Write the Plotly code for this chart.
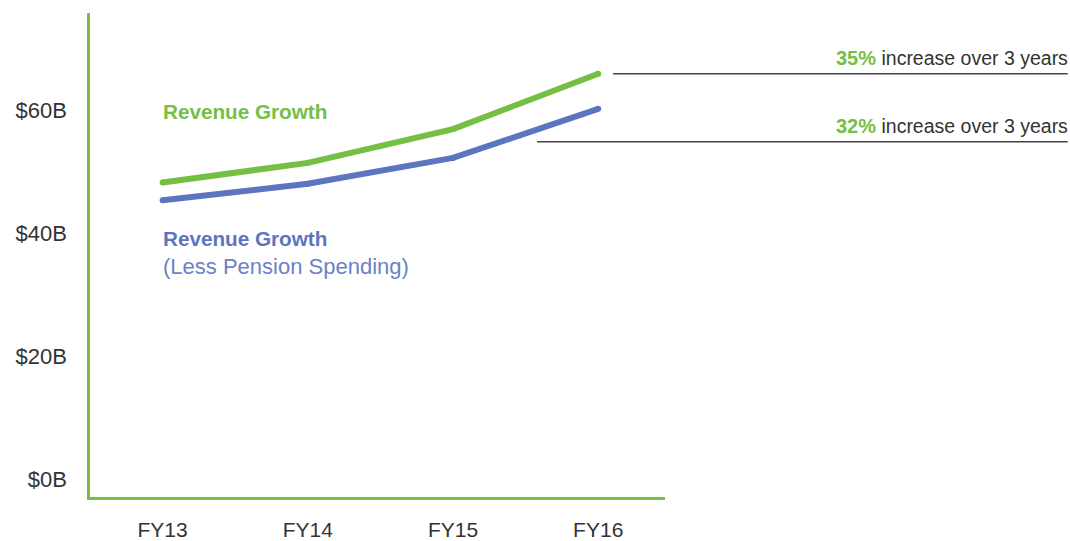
import plotly.graph_objects as go

years = ["FY13", "FY14", "FY15", "FY16"]
revenue = [48.3, 51.5, 57.0, 66.0]
revenue_less_pension = [45.4, 48.1, 52.3, 60.3]
tick_vals = [0, 20, 40, 60]
tick_text = ["$0B", "$20B", "$40B", "$60B"]

GREEN = "#74BF44"
BLUE = "#5C75BE"
BLUE_LIGHT = "#6B82C8"
DARK = "#333333"
FONT = "Liberation Sans"

L, R_EDGE, T, B_EDGE = 89.5, 665.0, 13.3, 496.75
W, H = 1070, 541

fig = go.Figure()
fig.add_trace(go.Scatter(x=years, y=revenue, mode="lines+markers",
                         line=dict(color=GREEN, width=6),
                         marker=dict(color=GREEN, size=6, line=dict(width=0)),
                         hoverinfo="skip"))
fig.add_trace(go.Scatter(x=years, y=revenue_less_pension, mode="lines+markers",
                         line=dict(color=BLUE, width=6),
                         marker=dict(color=BLUE, size=6, line=dict(width=0)),
                         hoverinfo="skip"))

fig.update_layout(
    width=W, height=H,
    margin=dict(l=L, r=W - R_EDGE, t=T, b=H - B_EDGE, autoexpand=False),
    paper_bgcolor="white", plot_bgcolor="white",
    showlegend=False,
    font=dict(family=FONT, color=DARK),
    xaxis=dict(range=[-0.5, 3.46], showgrid=False, zeroline=False,
               showline=True, linecolor=GREEN, linewidth=2.5,
               ticks="outside", ticklen=12, tickcolor="rgba(0,0,0,0)",
               tickfont=dict(size=21, color=DARK, family=FONT)),
    yaxis=dict(range=[-2.9, 75.9], showgrid=False, zeroline=False,
               showline=True, linecolor=GREEN, linewidth=2.5,
               tickvals=tick_vals, ticktext=tick_text,
               ticks="outside", ticklen=16, tickcolor="rgba(0,0,0,0)",
               tickfont=dict(size=22, color=DARK, family=FONT)),
)

def px_x(sx):
    return (sx - L) / (R_EDGE - L)

def px_y(sy):
    return (B_EDGE - sy) / (B_EDGE - T)

# annotation underlines
fig.add_shape(type="line", xref="paper", yref="paper",
              x0=px_x(613), x1=px_x(1068), y0=px_y(74), y1=px_y(74),
              line=dict(color="#444444", width=1.5))
fig.add_shape(type="line", xref="paper", yref="paper",
              x0=px_x(537), x1=px_x(1068), y0=px_y(142), y1=px_y(142),
              line=dict(color="#444444", width=1.5))

fig.add_annotation(xref="paper", yref="paper", x=px_x(1070), y=px_y(58),
                   xanchor="right", yanchor="middle", showarrow=False,
                   text=f"<b><span style='color:{GREEN};font-size:20px'>35%</span></b> increase over 3 years",
                   font=dict(size=19.5, color=DARK, family=FONT))
fig.add_annotation(xref="paper", yref="paper", x=px_x(1070), y=px_y(126),
                   xanchor="right", yanchor="middle", showarrow=False,
                   text=f"<b><span style='color:{GREEN};font-size:20px'>32%</span></b> increase over 3 years",
                   font=dict(size=19.5, color=DARK, family=FONT))

fig.add_annotation(xref="paper", yref="paper", x=px_x(161), y=px_y(112),
                   xanchor="left", yanchor="middle", showarrow=False,
                   text="<b>Revenue Growth</b>",
                   font=dict(size=20.7, color=GREEN, family=FONT))
fig.add_annotation(xref="paper", yref="paper", x=px_x(161), y=px_y(239),
                   xanchor="left", yanchor="middle", showarrow=False,
                   text="<b>Revenue Growth</b>",
                   font=dict(size=20.7, color=BLUE, family=FONT))
fig.add_annotation(xref="paper", yref="paper", x=px_x(161), y=px_y(267),
                   xanchor="left", yanchor="middle", showarrow=False,
                   text="(Less Pension Spending)",
                   font=dict(size=22, color=BLUE_LIGHT, family=FONT))

fig.write_html("out.html", config={"displayModeBar": False},
               post_script="document.body.style.margin='0';")
